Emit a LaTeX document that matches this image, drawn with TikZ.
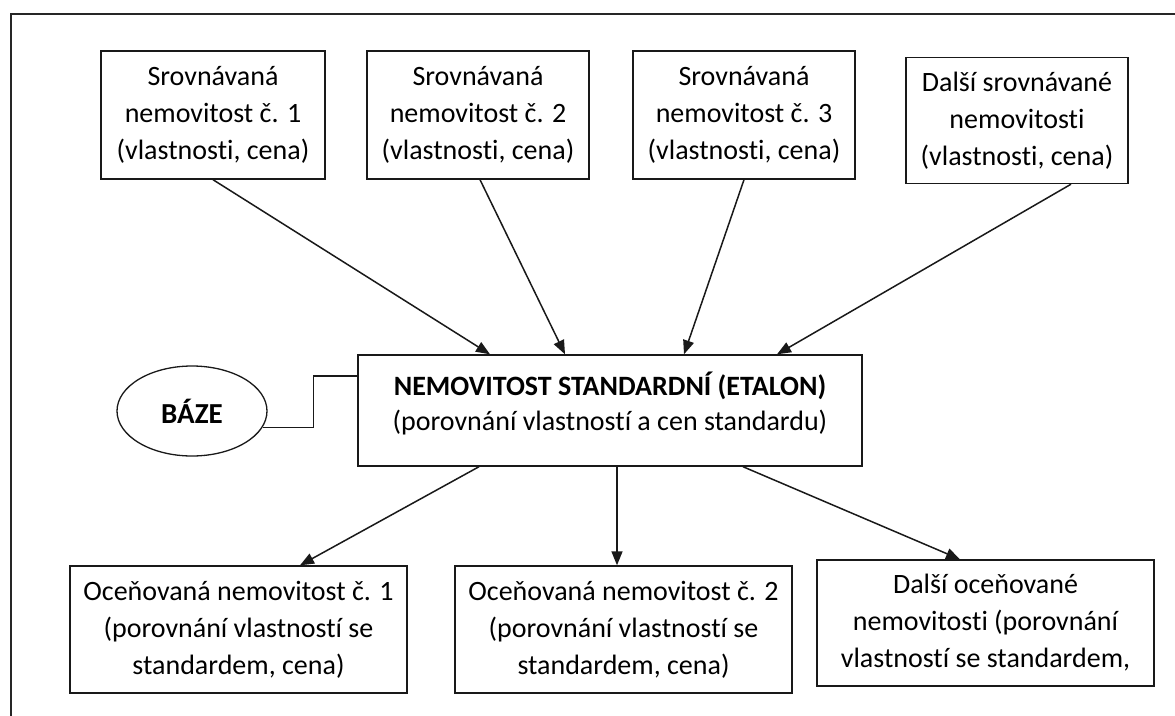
\documentclass[tikz,border=0pt]{standalone}
\usepackage{fontspec}
\setmainfont{Carlito}[Ligatures=NoCommon]
\usetikzlibrary{arrows.meta,shapes.geometric}
\tikzset{
  box/.style={draw=black!90, line width=1.4pt, rectangle, inner sep=0pt, align=center,
    font=\fontsize{28}{37}\selectfont},
  conn/.style={draw=black!90, line width=1.5pt, -{Triangle[length=14pt,width=11pt]}},
  plain/.style={draw=black!90, line width=1.5pt},
}
\begin{document}
\begin{tikzpicture}[x=1pt,y=-1pt]
\useasboundingbox (0,0) rectangle (1175,715);
% outer frame (partly cut off)
\draw[line width=2pt, black!85] (11,720) -- (11,14) -- (1180,14);

% top boxes
\node[box, minimum width=224pt, minimum height=128pt] (S1) at (213,115)
  {Srovnávaná\\nemovitost č. 1\\(vlastnosti, cena)};
\node[box, minimum width=222pt, minimum height=128pt] (S2) at (478,115)
  {Srovnávaná\\nemovitost č. 2\\(vlastnosti, cena)};
\node[box, minimum width=222pt, minimum height=128pt] (S3) at (744,115)
  {Srovnávaná\\nemovitost č. 3\\(vlastnosti, cena)};
\node[box, minimum width=222pt, minimum height=126pt] (S4) at (1017,120.5)
  {Další srovnávané\\nemovitosti\\(vlastnosti, cena)};

% central box
\node[box, minimum width=504pt, minimum height=111pt] (C) at (610,410.5) {};
\node[align=center, inner sep=0pt, font=\fontsize{28}{35}\selectfont] (Ct)
  at ([yshift=7.5pt]C.center)
  {\textbf{NEMOVITOST STANDARDNÍ (ETALON)}\\(porovnání vlastností a cen standardu)};

% BAZE ellipse
\node[draw=black!90, line width=1.3pt, ellipse, minimum width=150pt, minimum height=90pt,
  inner sep=0pt, font=\fontsize{29}{34}\selectfont\bfseries] (B) at (192,411) {BÁZE};

% bottom boxes
\node[box, minimum width=337pt, minimum height=127pt] (O1) at (238.5,629.5)
  {Oceňovaná nemovitost č. 1\\(porovnání vlastností se\\standardem, cena)};
\node[box, minimum width=337pt, minimum height=127pt] (O2) at (623.5,629.5)
  {Oceňovaná nemovitost č. 2\\(porovnání vlastností se\\standardem, cena)};
\node[box, minimum width=337pt, minimum height=126pt] (O3) at (985.5,623)
  {Další oceňované\\nemovitosti (porovnání\\vlastností se standardem,};

% connectors top -> centre
\draw[conn] (S1.south) -- ([xshift=-120pt]C.north);
\draw[conn] ([xshift=2pt]S2.south) -- ([xshift=-45pt]C.north);
\draw[conn] (S3.south) -- ([xshift=74pt]C.north);
\draw[conn] ([xshift=54pt]S4.south) -- ([xshift=167pt]C.north);

% centre -> bottom
\draw[conn] ([xshift=-131pt]C.south) -- ([xshift=61.5pt]O1.north);
\draw[conn] ([xshift=7pt]C.south) -- ([xshift=-6.5pt]O2.north);
\draw[conn] ([xshift=133pt]C.south) -- ([xshift=-25.5pt]O3.north);

% BAZE link
\draw[plain] (B.-13) -- ++(51,0) |- ([yshift=34.5pt]C.west);
\end{tikzpicture}
\end{document}
